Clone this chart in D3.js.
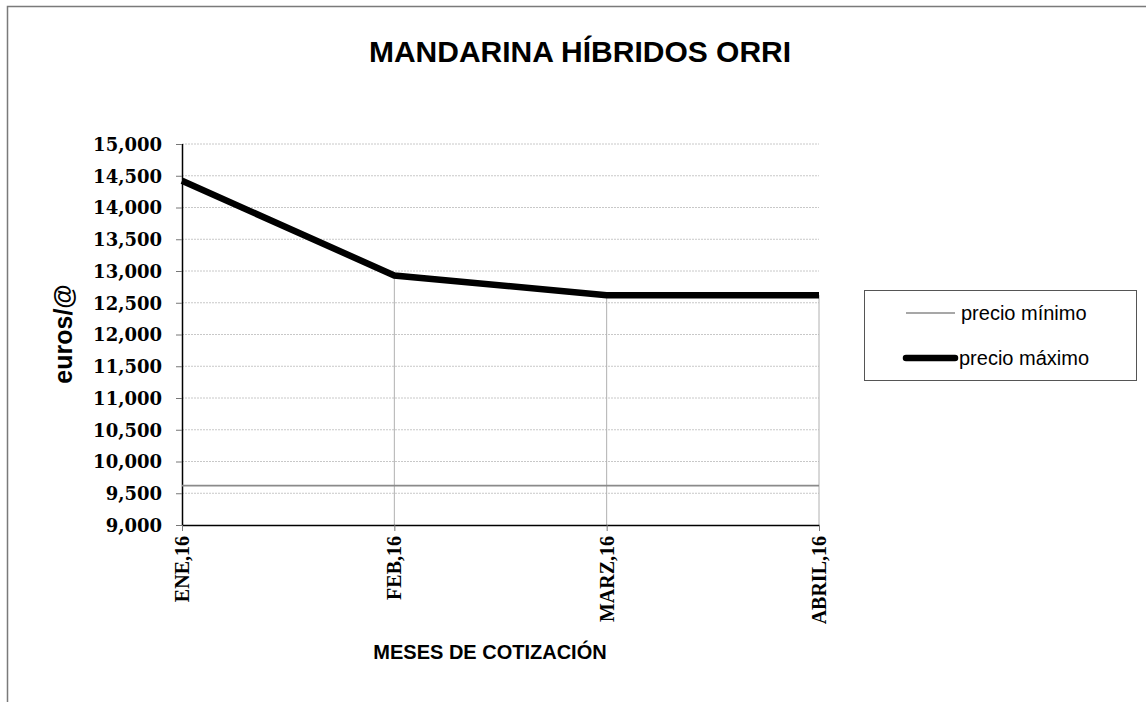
<!DOCTYPE html>
<html>
<head>
<meta charset="utf-8">
<script src="https://cdn.jsdelivr.net/npm/d3@7"></script>
<style>
  body { margin: 0; background: #fff; }
  svg { display: block; }
</style>
</head>
<body>
<svg id="chart" width="1146" height="702"></svg>
<script>
// datos
const meses = ["ENE,16", "FEB,16", "MARZ,16", "ABRIL,16"];
const precioMinimo = [9.62, 9.62, 9.62, 9.62];
const precioMaximo = [14.42, 12.93, 12.62, 12.62];
const yTicks = [9, 9.5, 10, 10.5, 11, 11.5, 12, 12.5, 13, 13.5, 14, 14.5, 15];
const series = [
  { name: "precio mínimo", values: precioMinimo, color: "#8a8a8a", width: 1.6 },
  { name: "precio máximo", values: precioMaximo, color: "#000", width: 6.5 }
];

const width = 1146;
const height = 702;
const margin = { top: 144, right: 327, bottom: 177, left: 182 };

const svg = d3.select("#chart");

const es = d3.formatLocale({ decimal: ",", thousands: ".", grouping: [3], currency: ["", "€"] });
const fmt = es.format(".3f");

const x = d3.scalePoint()
  .domain(meses)
  .range([margin.left, width - margin.right]);

const y = d3.scaleLinear()
  .domain([9, 15])
  .range([height - margin.bottom, margin.top]);

// marco exterior
svg.append("rect")
  .attr("x", 7.5).attr("y", 6.5)
  .attr("width", 1160).attr("height", 720)
  .attr("fill", "none")
  .attr("stroke", "#7a7a7a")
  .attr("stroke-width", 1.5);

// rejilla horizontal punteada
svg.append("g")
  .selectAll("line")
  .data(yTicks.filter(d => d > 9))
  .join("line")
  .attr("x1", margin.left).attr("x2", width - margin.right)
  .attr("y1", d => y(d)).attr("y2", d => y(d))
  .attr("stroke", "#c8c8c8")
  .attr("stroke-dasharray", "2,1");

// eje y
const yAxis = (g) =>
  g.attr("transform", `translate(${margin.left},0)`)
    .call(d3.axisLeft(y).tickValues(yTicks).tickSize(6).tickPadding(14).tickFormat(fmt))
    .call(g => g.select(".domain").attr("stroke", "#000").attr("stroke-width", 1.5).attr("d", `M0.5,${y(15)}V${y(9)}`))
    .call(g => g.selectAll(".tick line").attr("stroke", "#777"))
    .call(g => g.selectAll(".tick text")
      .attr("font-family", "'DejaVu Serif', serif")
      .attr("font-weight", "bold")
      .attr("font-size", 18)
      .attr("fill", "#000")
      .attr("dy", "0.36em"));

// eje x
const xAxis = (g) =>
  g.attr("transform", `translate(0,${height - margin.bottom})`)
    .call(d3.axisBottom(x).tickSize(6).tickSizeOuter(0))
    .call(g => g.select(".domain").attr("stroke", "#000").attr("stroke-width", 1.5))
    .call(g => g.selectAll(".tick line").attr("stroke", "#777"))
    .call(g => g.selectAll(".tick text")
      .attr("font-family", "'Liberation Serif', 'Times New Roman', serif")
      .attr("font-weight", "bold")
      .attr("font-size", 20)
      .attr("fill", "#000")
      .attr("text-anchor", "end")
      .attr("transform", "rotate(-90)")
      .attr("x", -11)
      .attr("y", 0)
      .attr("dy", "0.33em"));

// lineas de caida desde el precio maximo
svg.append("g")
  .selectAll("line")
  .data(precioMaximo.slice(1))
  .join("line")
  .attr("x1", (d, i) => x(meses[i + 1])).attr("x2", (d, i) => x(meses[i + 1]))
  .attr("y1", d => y(d)).attr("y2", y(9))
  .attr("stroke", "#b0b0b0")
  .attr("stroke-width", 1);

svg.append("g").call(xAxis);
svg.append("g").call(yAxis);

const line = d3.line()
  .x((d, i) => x(meses[i]))
  .y(d => y(d));

svg.append("g")
  .selectAll("path")
  .data(series)
  .join("path")
  .attr("d", d => line(d.values))
  .attr("fill", "none")
  .attr("stroke", d => d.color)
  .attr("stroke-width", d => d.width)
  .attr("stroke-linejoin", "miter");

// titulo
svg.append("text")
  .attr("x", 580).attr("y", 62)
  .attr("text-anchor", "middle")
  .attr("font-family", "Arial, 'Liberation Sans', sans-serif")
  .attr("font-weight", "bold")
  .attr("font-size", 30)
  .text("MANDARINA HÍBRIDOS ORRI");

// titulo eje y
svg.append("text")
  .attr("transform", "translate(72,334) rotate(-90)")
  .attr("text-anchor", "middle")
  .attr("font-family", "Arial, 'Liberation Sans', sans-serif")
  .attr("font-weight", "bold")
  .attr("font-size", 25)
  .text("euros/@");

// titulo eje x
svg.append("text")
  .attr("x", 490).attr("y", 659)
  .attr("text-anchor", "middle")
  .attr("font-family", "Arial, 'Liberation Sans', sans-serif")
  .attr("font-weight", "bold")
  .attr("font-size", 20)
  .text("MESES DE COTIZACIÓN");

// leyenda
const legend = svg.append("g");
legend.append("rect")
  .attr("x", 864.5).attr("y", 290.5)
  .attr("width", 272).attr("height", 90)
  .attr("fill", "#fff")
  .attr("stroke", "#555")
  .attr("stroke-width", 1);

const items = legend.selectAll("g.item")
  .data(series)
  .join("g")
  .attr("class", "item")
  .attr("transform", (d, i) => `translate(0,${i === 0 ? 313 : 358})`);

items.append("line")
  .attr("x1", 906)
  .attr("x2", 955)
  .attr("stroke", d => d.color)
  .attr("stroke-width", d => d.width)
  .attr("stroke-linecap", (d, i) => i === 0 ? "butt" : "round");

items.append("text")
  .attr("x", (d, i) => i === 0 ? 961 : 959)
  .attr("y", 7)
  .attr("font-family", "Arial, 'Liberation Sans', sans-serif")
  .attr("font-size", 20)
  .text(d => d.name);
</script>
</body>
</html>
